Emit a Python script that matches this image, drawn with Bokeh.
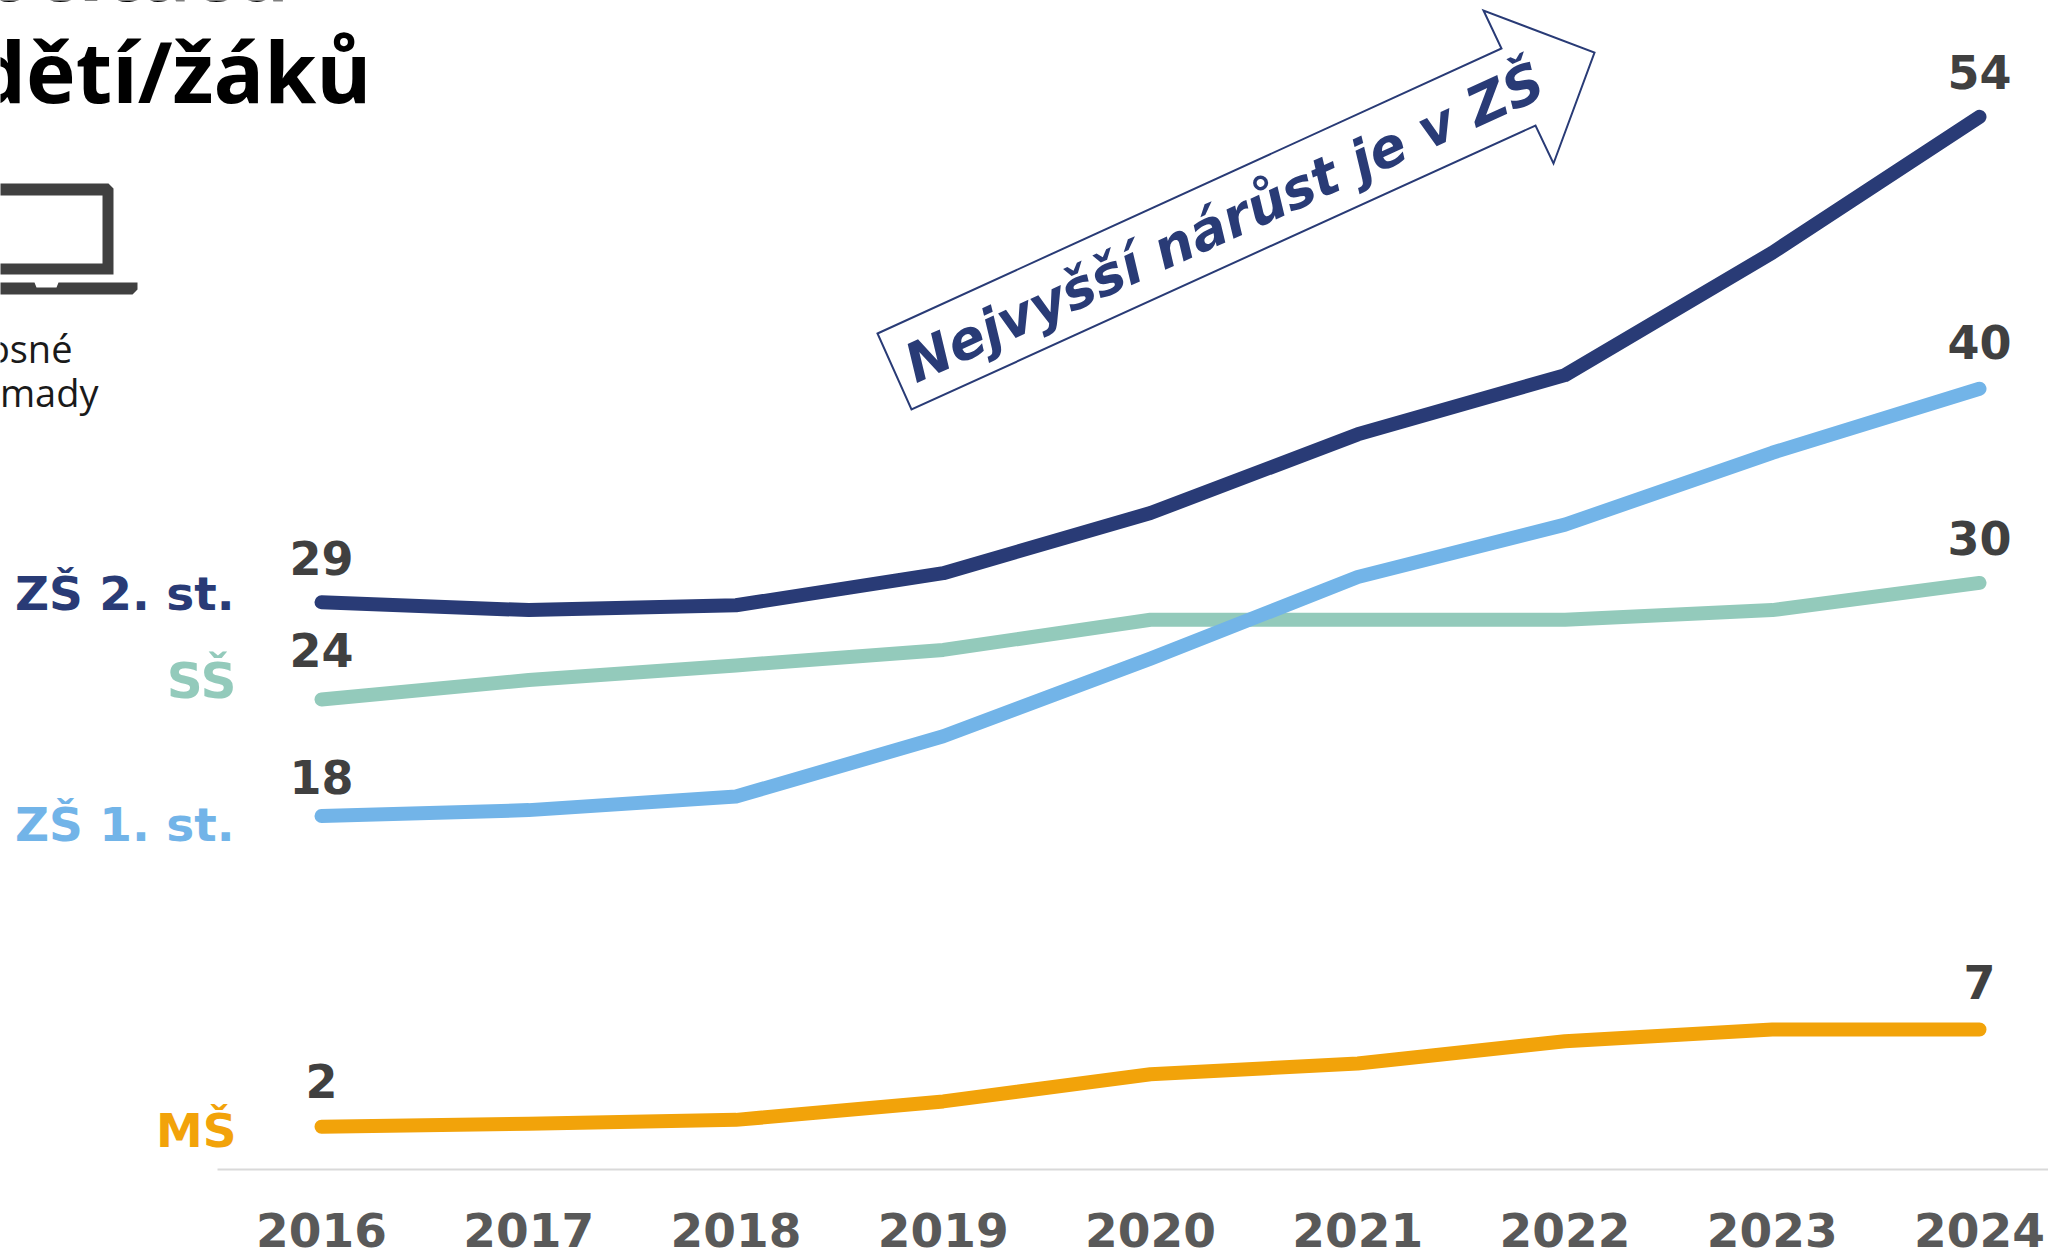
from bokeh.embed import file_html
from bokeh.models import FixedTicker, LinearAxis, Range1d
from bokeh.plotting import figure
from bokeh.resources import INLINE
from bokeh.core.properties import value

years = [2016, 2017, 2018, 2019, 2020, 2021, 2022, 2023, 2024]
zs2 = [29, 28.6, 28.85, 30.5, 33.6, 37.65, 40.7, 47.0, 54]
ss = [24, 25.0, 25.75, 26.55, 28.1, 28.1, 28.1, 28.6, 30]
zs1 = [18, 18.3, 19.0, 22.1, 26.1, 30.3, 33.0, 36.7, 40]
ms = [2, 2.15, 2.35, 3.3, 4.7, 5.25, 6.4, 7.0, 7]
series_names = ["ZŠ 2. st.", "SŠ", "ZŠ 1. st.", "MŠ"]
series_values = [zs2, ss, zs1, ms]
colors = ["#293B76", "#93CABB", "#72B4E8", "#F2A30A"]

W, H = 2048, 1252
X_STEP = 207.25       # pixels per year
Y_STEP = 19.42        # pixels per unit
X_FIRST = 321         # pixel of the first year
Y_ZERO = 1165         # pixel of value 0
AXIS_PX = 1169
AXIS_LEFT_PX = 217

p = figure(
    width=W, height=H, output_backend="svg", toolbar_location=None,
    x_range=Range1d(2016 - X_FIRST / X_STEP, 2016 + (W - X_FIRST) / X_STEP),
    y_range=Range1d(-(H - Y_ZERO) / Y_STEP, Y_ZERO / Y_STEP),
    min_border=0, min_border_left=0, min_border_right=0,
    min_border_top=0, min_border_bottom=0,
    x_axis_type=None, y_axis_type=None, outline_line_color=None,
    background_fill_color="white", border_fill_color="white",
)
p.grid.visible = False

# Pixel-space ranges for the furniture around the chart
p.extra_x_ranges["px"] = Range1d(0, W)
p.extra_y_ranges["px"] = Range1d(H, 0)
PX = dict(x_range_name="px", y_range_name="px")

axis = LinearAxis(
    fixed_location=(Y_ZERO - AXIS_PX) / Y_STEP,
    bounds=(2016 - (X_FIRST - AXIS_LEFT_PX) / X_STEP, 2016 + (W - X_FIRST) / X_STEP),
    ticker=FixedTicker(ticks=years),
    axis_line_color="#D9D9D9", axis_line_width=2,
    major_tick_line_color=None, minor_tick_line_color=None,
    major_label_text_font="DejaVu Sans",
    major_label_text_font_style="bold",
    major_label_text_font_size="47px",
    major_label_text_color="#595959",
    major_label_standoff=37,
)
p.add_layout(axis, "below")

for vals, col in zip(series_values, colors):
    p.line(years, vals, line_color=col, line_width=14,
           line_cap="round", line_join="round")

# Value labels at both ends of each line
first_offsets = [-44, -49, -39, -46]
last_offsets = [-45, -45, -47, -48]
for vals, off0, off1 in zip(series_values, first_offsets, last_offsets):
    for yr, v, off in ((years[0], vals[0], off0), (years[-1], vals[-1], off1)):
        p.text([yr], [v], text=[str(v)], text_align="center",
               text_baseline="alphabetic", y_offset=off,
               text_font=value("DejaVu Sans"), text_font_style="bold",
               text_font_size="46px", text_color="#404040")

# Series names to the left of the lines
name_rights = [234, 236, 234, 236]
name_baselines = [593, 680, 824, 1130]
name_sizes = ["47px", "50px", "47px", "47px"]
for name, col, rx, by, size in zip(series_names, colors, name_rights, name_baselines, name_sizes):
    p.text([rx], [by], text=[name], text_align="right",
           text_baseline="alphabetic", text_font=value("DejaVu Sans"),
           text_font_style="bold", text_font_size=size, text_color=col, **PX)

# Two-line heading, running off the top left corner
p.text([289, 371], [-32, 70], text=["počítačů", "dětí/žáků"], text_align="right",
       text_baseline="alphabetic", text_font=value("Open Sans"),
       text_font_style="bold", text_font_size="84px", text_color="#000000", **PX)

# Laptop icon
ICON = "#404040"
p.patch([-10, 108, 113, 113, -10, -10, 102, 102, -10],
        [183, 183, 188, 274, 274, 263, 263, 195, 195],
        fill_color=ICON, line_color=None, **PX)
p.patch([-10, 34, 36, 56, 58, 137, 137, 132, -10],
        [282, 282, 287, 287, 282, 282, 289, 294, 294],
        fill_color=ICON, line_color=None, **PX)

# Caption beneath the icon
p.text([72, 98], [347, 391], text=["osné", "mady"], text_align="right",
       text_baseline="alphabetic", text_font=value("Open Sans"),
       text_font_size="38px", text_color="#1A1A1A", **PX)

# Callout arrow
arrow_x = [877, 1501, 1483, 1594, 1553, 1535, 911]
arrow_y = [333, 48, 10, 52, 163, 125, 409]
p.patch(arrow_x, arrow_y, fill_color="white", line_color="#293B76",
        line_width=2, line_join="miter", **PX)
p.text([1224], [222], text=["Nejvyšší nárůst je v ZŠ"], angle=24.5,
       angle_units="deg", text_align="center", text_baseline="middle",
       text_font=value("DejaVu Sans"), text_font_style="bold italic",
       text_font_size="54px", text_color="#293B76", **PX)

open("out.html", "w").write(file_html(p, INLINE))
